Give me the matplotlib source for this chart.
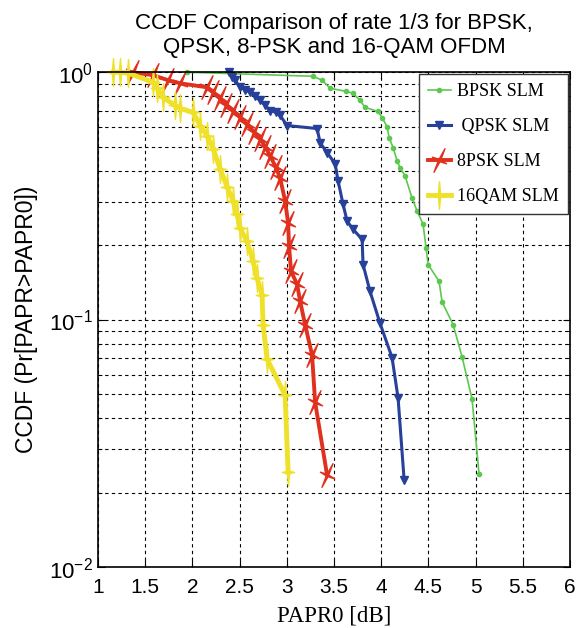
import numpy as np
import matplotlib.pyplot as plt
from matplotlib.path import Path

# Valeurs (PAPR0 en dB, CCDF)
bpsk_x = [1.943, 3.278, 3.373, 3.458, 3.627, 3.701, 3.775, 3.828, 3.966, 4.008, 4.061,
          4.083, 4.125, 4.167, 4.199, 4.252, 4.326, 4.379, 4.443, 4.475, 4.496, 4.612,
          4.644, 4.761, 4.856, 4.962, 5.036]
bpsk_y = [1.0, 0.963, 0.928, 0.861, 0.837, 0.822, 0.769, 0.721, 0.694, 0.656, 0.603,
          0.544, 0.496, 0.439, 0.411, 0.381, 0.310, 0.275, 0.243, 0.194, 0.167, 0.143,
          0.118, 0.0954, 0.0707, 0.0477, 0.0237]

qpsk_x = [2.388, 2.420, 2.451, 2.504, 2.560, 2.610, 2.660, 2.716, 2.770, 2.822, 2.880,
          2.928, 3.002, 3.320, 3.352, 3.426, 3.511, 3.542, 3.595, 3.638, 3.701, 3.797,
          3.807, 3.881, 3.987, 4.114, 4.178, 4.242]
qpsk_y = [1.0, 0.96, 0.928, 0.869, 0.850, 0.829, 0.800, 0.769, 0.735, 0.700, 0.690,
          0.669, 0.609, 0.592, 0.519, 0.473, 0.427, 0.364, 0.293, 0.250, 0.232, 0.211,
          0.167, 0.130, 0.0966, 0.0703, 0.0482, 0.0225]

psk8_x = [1.371, 1.583, 1.742, 1.869, 2.155, 2.218, 2.292, 2.360, 2.430, 2.500, 2.578,
          2.650, 2.716, 2.770, 2.822, 2.880, 2.928, 2.981, 3.013, 3.023, 3.044, 3.108,
          3.140, 3.193, 3.267, 3.299, 3.426]
psk8_y = [1.0, 0.972, 0.928, 0.902, 0.869, 0.829, 0.784, 0.740, 0.700, 0.660, 0.615,
          0.575, 0.539, 0.500, 0.460, 0.415, 0.374, 0.302, 0.246, 0.198, 0.157, 0.139,
          0.119, 0.0953, 0.0720, 0.0464, 0.0235]

qam16_x = [1.159, 1.233, 1.318, 1.583, 1.625, 1.689, 1.816, 1.869, 2.006, 2.081, 2.155,
           2.218, 2.292, 2.367, 2.430, 2.472, 2.504, 2.578, 2.642, 2.684, 2.737, 2.748,
           2.790, 2.981, 3.013]
qam16_y = [1.0, 1.0, 0.991, 0.911, 0.861, 0.791, 0.734, 0.714, 0.688, 0.609, 0.554,
           0.491, 0.407, 0.344, 0.302, 0.267, 0.234, 0.207, 0.172, 0.147, 0.126, 0.0953,
           0.0694, 0.0495, 0.0242]

labels = ["BPSK SLM", " QPSK SLM", "8PSK SLM", "16QAM SLM"]


def etoile(angle=0.0, large=0.5, fin=0.08):
    # etoile a 4 branches, branche verticale longue
    v = np.array([(0, 1), (fin, fin), (large, 0), (fin, -fin),
                  (0, -1), (-fin, -fin), (-large, 0), (-fin, fin), (0, 1)])
    a = np.deg2rad(angle)
    r = np.array([[np.cos(a), -np.sin(a)], [np.sin(a), np.cos(a)]])
    v = v @ r.T
    codes = [Path.MOVETO] + [Path.LINETO] * 7 + [Path.CLOSEPOLY]
    return Path(v, codes)


plt.rcParams['mathtext.fontset'] = 'custom'
plt.rcParams['mathtext.rm'] = 'Liberation Sans'
plt.rcParams['mathtext.it'] = 'Liberation Sans'

fig = plt.figure(figsize=(5.77, 6.28), dpi=100)
axe = fig.add_axes([0.170, 0.097, 0.818, 0.788])

axe.semilogy(bpsk_x, bpsk_y, color='#5cc84f', lw=1.2, marker='.', ms=6,
             label=labels[0], clip_on=False)
axe.semilogy(qpsk_x, qpsk_y, color='#27409a', lw=2.2, marker='v', ms=6,
             label=labels[1], clip_on=False)
axe.semilogy(psk8_x, psk8_y, color='#e0301e', lw=2.8, marker=etoile(-25, 0.6, 0.07), ms=17,
             label=labels[2], clip_on=False)
axe.semilogy(qam16_x, qam16_y, color='#efe12a', lw=3.5, marker=etoile(0, 0.45), ms=20,
             label=labels[3], clip_on=False)

axe.set_xlim(1, 6)
axe.set_ylim(0.01, 1)
axe.set_xticks(np.arange(1, 6.01, 0.5))
axe.set_xticklabels(['1', '1.5', '2', '2.5', '3', '3.5', '4', '4.5', '5', '5.5', '6'],
                    family='Liberation Sans', fontsize=15)
axe.set_yticks([0.01, 0.1, 1])
axe.set_yticklabels(['$10^{-2}$', '$10^{-1}$', '$10^{0}$'], fontsize=16)
axe.tick_params(which='both', direction='in', top=True, right=True, length=5)
axe.tick_params(axis='x', pad=8)
axe.tick_params(which='minor', labelleft=False, length=3)
axe.grid(True, which='both', color='black', linestyle=(0, (3, 3)), lw=0.8)
for s in axe.spines.values():
    s.set_linewidth(1.2)

axe.set_title("CCDF Comparison of rate 1/3 for BPSK,\nQPSK, 8-PSK and 16-QAM OFDM",
              family='Liberation Sans', fontsize=16, pad=14)
axe.set_xlabel("PAPR0 [dB]", family='Liberation Serif', fontsize=16.5, labelpad=6)
axe.set_ylabel("CCDF (Pr[PAPR>PAPR0])", family='Liberation Sans', fontsize=16.5, labelpad=8)

leg = axe.legend(loc='upper right', prop={'family': 'Liberation Serif', 'size': 13},
                 fancybox=False, edgecolor='#333333', framealpha=1,
                 borderpad=0.5, labelspacing=1.0, handlelength=1.3, handletextpad=0.35,
                 borderaxespad=0.1)
leg.get_frame().set_linewidth(1.0)

fig.savefig('out.png', dpi=100)
